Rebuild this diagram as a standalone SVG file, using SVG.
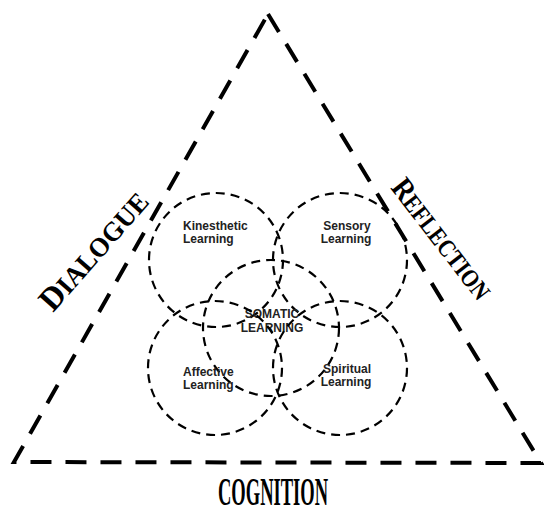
<svg xmlns="http://www.w3.org/2000/svg" width="544" height="515" viewBox="0 0 544 515">
<style>
.tri{fill:none;stroke:#000;stroke-width:4;stroke-dasharray:21 14;stroke-linejoin:miter}
.c{fill:none;stroke:#000;stroke-width:2.2;stroke-dasharray:9 6}
.t{font-family:"Liberation Sans",Arial,sans-serif;font-weight:bold;font-size:12px;fill:#222}
.big{font-family:"Liberation Serif","Times New Roman",serif;font-weight:bold;fill:#000}
</style>
<rect width="544" height="515" fill="#fff"/>
<g id="connectors">
<path class="tri" d="M268,14 L541,463 L14,462 Z"/>
</g>
<g id="kinesthetic">
<circle class="c" cx="216" cy="260" r="67"/>
<text class="t" x="183" y="230">Kinesthetic</text>
<text class="t" x="183" y="243">Learning</text>
</g>
<g id="sensory">
<circle class="c" cx="340" cy="260" r="67"/>
<text class="t" x="347" y="230" text-anchor="middle">Sensory</text>
<text class="t" x="346" y="243" text-anchor="middle">Learning</text>
</g>
<g id="somatic">
<circle class="c" cx="271" cy="328" r="68"/>
<text class="t" x="272" y="318" text-anchor="middle">SOMATIC</text>
<text class="t" x="272" y="332" text-anchor="middle">LEARNING</text>
</g>
<g id="affective">
<circle class="c" cx="215" cy="368" r="67"/>
<text class="t" x="183" y="376">Affective</text>
<text class="t" x="183" y="389">Learning</text>
</g>
<g id="spiritual">
<circle class="c" cx="340" cy="368" r="67"/>
<text class="t" x="347" y="373" text-anchor="middle">Spiritual</text>
<text class="t" x="346" y="386" text-anchor="middle">Learning</text>
</g>
<g id="dialogue">
<text class="big" x="53" y="313" transform="rotate(-48.6 53 313)" font-size="27" textLength="147" lengthAdjust="spacingAndGlyphs"><tspan font-size="33">D</tspan>IALOGUE</text>
</g>
<g id="reflection">
<text class="big" x="390" y="188" transform="rotate(52.3 390 188)" font-size="25" textLength="144" lengthAdjust="spacingAndGlyphs"><tspan font-size="31">R</tspan>EFLECTION</text>
</g>
<g id="cognition">
<text class="big" x="218" y="505" font-size="40" textLength="110" lengthAdjust="spacingAndGlyphs">COGNITION</text>
</g>
</svg>
